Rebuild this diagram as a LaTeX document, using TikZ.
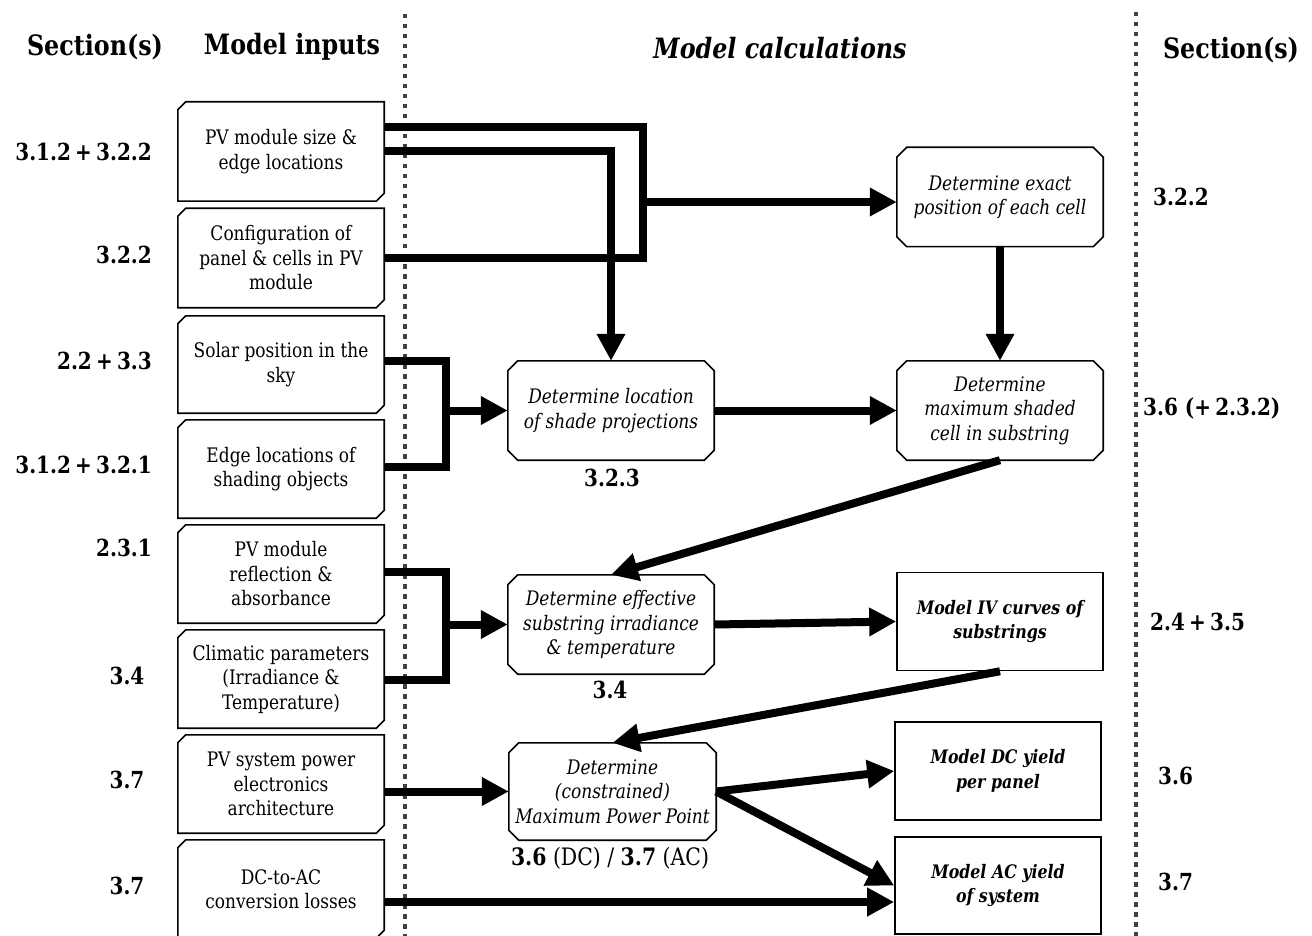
\documentclass[tikz,border=0pt]{standalone}
\usepackage{fontspec}
\setmainfont{DejaVu Serif}[FakeStretch=0.85]
\usetikzlibrary{arrows.meta,calc}
\newcommand\fbody{\fontsize{20}{24.5}\selectfont}
\newcommand\fmod{\fontsize{18.6}{24.5}\selectfont}
\newcommand\fhead{\fontsize{28}{32}\selectfont\bfseries}
\newcommand\flab{\fontsize{23.5}{28}\selectfont\bfseries}
\newcommand\pl{\hspace{0.18em}+\hspace{0.18em}}
\newcommand\snipout[2]{\draw[outl] ([yshift=-#2]#1.north west) -- ([xshift=#2]#1.north west) -- (#1.north east) -- ([yshift=#2]#1.south east) -- ([xshift=-#2]#1.south east) -- (#1.south west) -- cycle;}
\newcommand\octout[2]{\draw[outl] ([yshift=-#2]#1.north west) -- ([xshift=#2]#1.north west) -- ([xshift=-#2]#1.north east) -- ([yshift=-#2]#1.north east) -- ([yshift=#2]#1.south east) -- ([xshift=-#2]#1.south east) -- ([xshift=#2]#1.south west) -- ([yshift=#2]#1.south west) -- cycle;}
\begin{document}
\begin{tikzpicture}[x=1pt,y=-1pt,
  outl/.style={draw=black,line width=1.6pt,line join=miter},
  inbox/.style={minimum width=206pt,minimum height=99pt,inner sep=0pt,align=center,font=\fbody},
  calcbox/.style={minimum width=206pt,minimum height=99pt,inner sep=0pt,align=center,font=\fbody\itshape},
  modbox/.style={draw=black,line width=1.6pt,minimum width=206pt,minimum height=98pt,inner sep=0pt,align=center,font=\fmod\bfseries\itshape},
  head/.style={font=\fhead,inner sep=0pt},
  lab/.style={font=\flab,inner sep=0pt},
  sepline/.style={draw=black!75,line width=4.5pt,dash pattern=on 4.5pt off 5.5pt},
  conn/.style={line width=8pt,line join=miter},
  arr/.style={conn,-{Triangle[length=27pt,width=27pt]}}]
\useasboundingbox (0,0) rectangle (1312,936);
% separators
\coordinate (s1t) at (405,14); \coordinate (s1b) at (405,940);
\coordinate (s2t) at (1136,12); \coordinate (s2b) at (1136,940);
\draw[sepline] (s1t) -- (s1b);
\draw[sepline] (s2t) -- (s2b);
% headers
\node[head] (h1) at (95,47) {Section(s)};
\node[head] (h2) at (292,47) {Model inputs};
\node[head,font=\fhead\itshape] (h3) at (780,48) {Model calculations};
\node[head] (h4) at (1231,50) {Section(s)};
% input boxes
\node[inbox] (i1) at (281,151.5) {PV module size \&\\edge locations};
\node[inbox] (i2) at (281,258) {Configuration of\\panel \& cells in PV\\module};
\node[inbox,minimum height=97pt] (i3) at (281,364.5) {Solar position in the\\sky};
\node[inbox,minimum height=98pt] (i4) at (281,469) {Edge locations of\\shading objects};
\node[inbox,minimum height=98pt] (i5) at (281,574) {PV module\\reflection \&\\absorbance};
\node[inbox,minimum height=98pt] (i6) at (281,679) {Climatic parameters\\(Irradiance \&\\Temperature)};
\node[inbox,minimum height=98pt] (i7) at (281,784) {PV system power\\electronics\\architecture};
\node[inbox,minimum height=98pt] (i8) at (281,889) {DC-to-AC\\conversion losses};
\foreach \n in {i1,i2,i3,i4,i5,i6,i7,i8} {\snipout{\n}{8pt}}
% calc boxes
\node[calcbox] (A) at (1000,197) {Determine exact\\position of each cell};
\node[calcbox] (B) at (611,410.5) {Determine location\\of shade projections};
\node[calcbox] (C) at (1000,410.5) {Determine\\maximum shaded\\cell in substring};
\node[calcbox] (D) at (611,624.5) {Determine effective\\substring irradiance\\\& temperature};
\node[calcbox,minimum width=207pt,minimum height=97pt] (F) at (612.5,791.5) {Determine\\(constrained)\\Maximum Power Point};
\foreach \n in {A,B,C,D,F} {\octout{\n}{10pt}}
\node[modbox] (E) at (1000,621.5) {Model IV curves of\\substrings};
\node[modbox] (G) at (998,771) {Model DC yield\\per panel};
\node[modbox,minimum height=97pt] (H) at (998,885.5) {Model AC yield\\of system};
% labels under boxes
\node[lab] (lB) at (612,478) {3.2.3};
\node[lab] (lD) at (610,690) {3.4};
\node[lab,font=\fontsize{24}{28}\selectfont] (lF) at (610,858) {\textbf{3.6} (DC) / \textbf{3.7} (AC)};
% left section labels
\node[lab,anchor=east] (L1) at (152,152) {3.1.2\pl 3.2.2};
\node[lab,anchor=east] (L2) at (152,255) {3.2.2};
\node[lab,anchor=east] (L3) at (152,361) {2.2\pl 3.3};
\node[lab,anchor=east] (L4) at (152,465) {3.1.2\pl 3.2.1};
\node[lab,anchor=east] (L5) at (152,548) {2.3.1};
\node[lab] (L6) at (127,676) {3.4};
\node[lab] (L7) at (127,780) {3.7};
\node[lab] (L8) at (127,886) {3.7};
% right section labels
\node[lab,anchor=west] (R1) at (1153,197) {3.2.2};
\node[lab,anchor=west] (R2) at (1143,408) {3.6 (+\hspace{0.18em}2.3.2)};
\node[lab,anchor=west] (R3) at (1150,622) {2.4\pl 3.5};
\node[lab,anchor=west] (R4) at (1158,776) {3.6};
\node[lab,anchor=west] (R5) at (1158,882) {3.7};
% connectors
\coordinate (j1) at (643,202);
\coordinate (j2) at (446,410.5);
\coordinate (j3) at (446,624.5);
\coordinate (h2p) at ($(H.west)+(0,16.5)$);
\draw[conn] ($(i1.east)+(0,-24.5)$) -| (j1);
\draw[conn] (i2.east) -| (j1);
\draw[arr] (j1) -- (A.west |- j1);
\draw[arr] (i1.east) -| (B.north);
\draw[conn] ($(i3.east)+(0,-3.5)$) -| (j2);
\draw[conn] ($(i4.east)+(0,-2)$) -| (j2);
\draw[arr] (j2) -- (B.west);
\draw[conn] ($(i5.east)+(0,-2)$) -| (j3);
\draw[conn] ($(i6.east)+(0,1)$) -| (j3);
\draw[arr] (j3) -- (D.west);
\draw[arr] (B.east) -- (C.west);
\draw[arr] (A.south) -- (C.north);
\draw[arr] (C.south) -- (D.north);
\draw[arr] (D.east) -- (E.west);
\draw[arr] (E.south) -- (F.north);
\draw[arr] (i7.east |- F.west) -- (F.west);
\draw[arr] (F.east) -- (G.west);
\draw[arr] (F.east) -- (H.west);
\draw[arr] (i8.east |- h2p) -- (h2p);
\end{tikzpicture}
\end{document}
